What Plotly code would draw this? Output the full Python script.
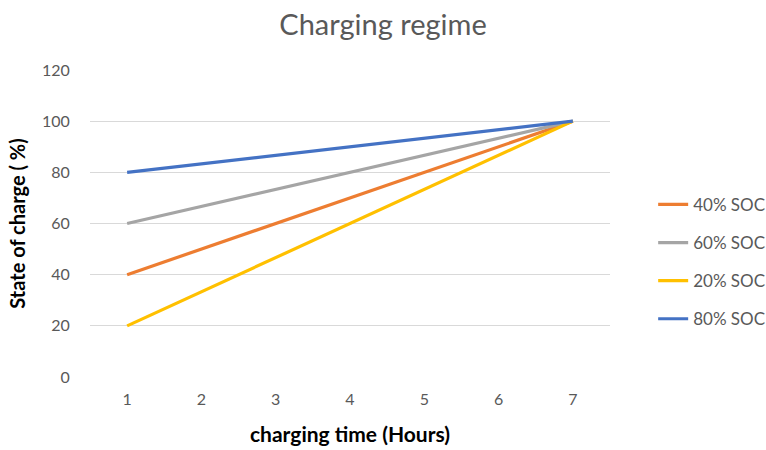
import plotly.graph_objects as go

# Charging time in hours and state of charge (%) for each starting level
hours = [1, 2, 3, 4, 5, 6, 7]
soc_40 = [40, 50, 60, 70, 80, 90, 100]
soc_60 = [60, 66.7, 73.3, 80, 86.7, 93.3, 100]
soc_20 = [20, 33.3, 46.7, 60, 73.3, 86.7, 100]
soc_80 = [80, 83.3, 86.7, 90, 93.3, 96.7, 100]

series_names = ["40% SOC", "60% SOC", "20% SOC", "80% SOC"]
series_values = [soc_40, soc_60, soc_20, soc_80]
series_colors = ["#ED7D31", "#A5A5A5", "#FFC000", "#4472C4"]

y_ticks = [0, 20, 40, 60, 80, 100, 120]

FONT = "Lato, 'Open Sans', sans-serif"
GREY_TEXT = "#595959"

fig = go.Figure()
for name, vals, color in zip(series_names, series_values, series_colors):
    fig.add_trace(go.Scatter(
        x=hours, y=vals, mode="lines", name=name, legendgroup=name,
        line=dict(color=color, width=3.2),
    ))

fig.update_layout(
    width=766, height=450,
    margin=dict(l=90, r=156, t=70, b=73, autoexpand=False),
    paper_bgcolor="white", plot_bgcolor="white",
    font=dict(family=FONT, color=GREY_TEXT),
    title=dict(text="Charging regime", x=0.5, xref="container", xanchor="center",
               y=0.945, yanchor="middle",
               font=dict(size=29, color=GREY_TEXT, family=FONT)),
    legend=dict(x=1.083, xanchor="left", y=0.375, yanchor="middle",
                font=dict(size=17, color=GREY_TEXT, family=FONT),
                traceorder="grouped", tracegroupgap=13,
                bgcolor="rgba(0,0,0,0)"),
    showlegend=True,
)

fig.update_xaxes(
    range=[0.5, 7.5], tickmode="array", tickvals=hours,
    ticktext=[str(h) for h in hours],
    showgrid=False, zeroline=False, showline=False,
    ticks="outside", ticklen=8, tickcolor="rgba(0,0,0,0)",
    tickfont=dict(size=16, color=GREY_TEXT, family=FONT),
    title=dict(text="<b>charging time (Hours)</b>", standoff=20,
               font=dict(size=21, color="#000000", family=FONT)),
    automargin=False,
)
fig.update_yaxes(
    range=[0, 120], tickmode="array", tickvals=y_ticks,
    showgrid=True, gridcolor="#D9D9D9", gridwidth=1,
    zeroline=False, showline=False,
    ticks="outside", ticklen=16, tickcolor="rgba(0,0,0,0)",
    tickfont=dict(size=16, color=GREY_TEXT, family=FONT),
    title=dict(text="<b>State of charge ( %)</b>", standoff=10,
               font=dict(size=20, color="#000000", family=FONT)),
    automargin=False,
)

fig.write_html("out.html")
